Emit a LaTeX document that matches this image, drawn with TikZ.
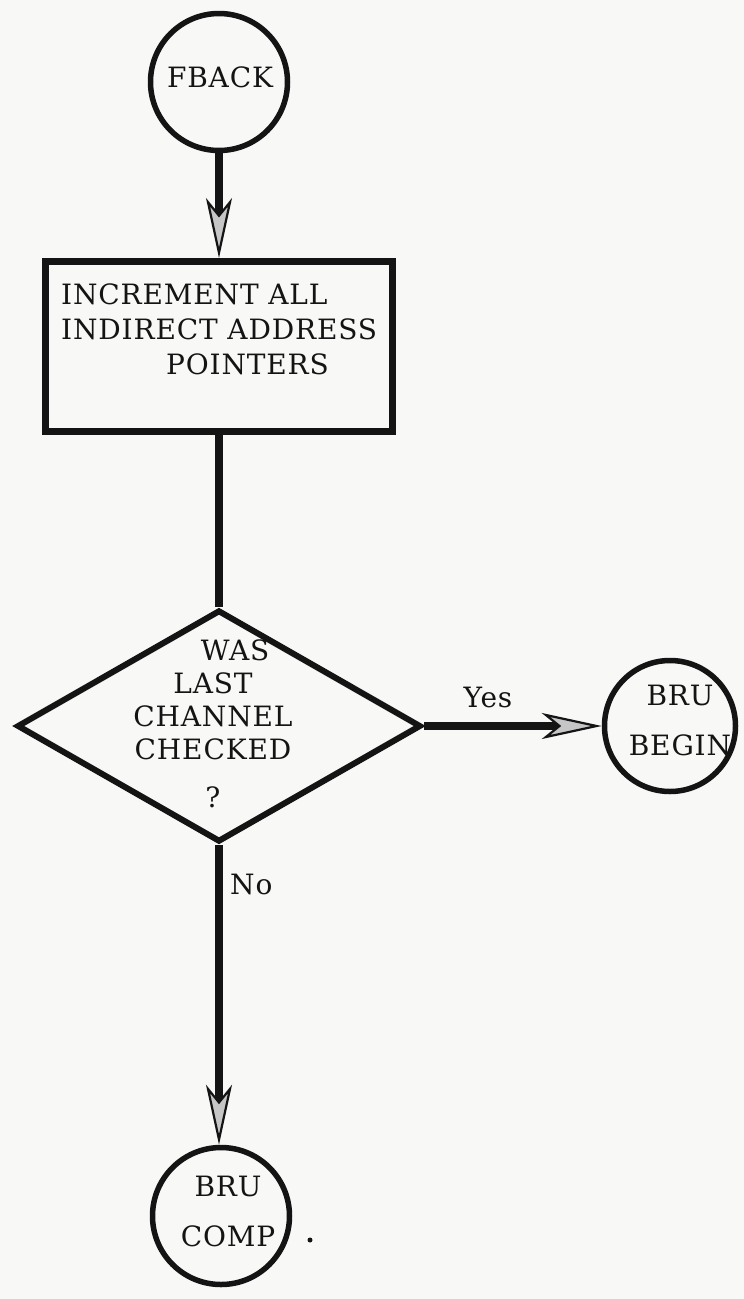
\documentclass[tikz,border=0pt]{standalone}
\usepackage{fontspec}
\setmainfont[LetterSpace=3]{DejaVu Serif}
\usetikzlibrary{arrows.meta,shapes.geometric}
\definecolor{ink}{HTML}{141414}
\definecolor{paper}{HTML}{F8F8F6}
\begin{document}
\begin{tikzpicture}[x=1pt,y=-1pt,
  every node/.style={font=\fontsize{28}{35}\selectfont,text=ink},
  term/.style={circle,draw=ink,line width=5.5pt,minimum size=137pt,inner sep=0pt},
  procbox/.style={rectangle,draw=ink,line width=7pt,minimum width=347pt,minimum height=170pt,inner sep=0pt},
  decide/.style={diamond,draw=ink,line width=6pt,minimum width=404pt,minimum height=232pt,inner sep=0pt},
  flow/.style={draw=ink,line width=8.5pt,-{Stealth[length=60pt,width=26pt,inset=16pt,line width=2.2pt,fill=gray!45]}},
  plain/.style={draw=ink,line width=8.5pt},
  lbl/.style={inner sep=0pt,align=center}]
\useasboundingbox (0,0) rectangle (744,1299);
\fill[paper] (0,0) rectangle (744,1299);

% shapes
\node[term] (fb) at (219,82) {};
\node[procbox] (inc) at (219,346.5) {};
\node[decide] (dec) at (219,726) {};
\node[term,minimum size=131pt] (begin) at (670,726) {};
\node[term] (comp) at (221,1216) {};

% texts
\node[lbl] (fbt) at (220,77) {FBACK};
\node[lbl,anchor=north west,align=left] (inct) at (61,284)
  {INCREMENT ALL\\INDIRECT ADDRESS\\\hspace*{105pt}POINTERS};
\node[lbl,font=\fontsize{28}{33}\selectfont] (dect) at (213,724)
  {\hspace*{44pt}WAS\\LAST\\CHANNEL\\CHECKED\\[15pt]?};
\node[lbl,font=\fontsize{28}{50}\selectfont] (begint) at (680,720) {BRU\\BEGIN};
\node[lbl,font=\fontsize{28}{50}\selectfont] (compt) at (228,1211) {BRU\\COMP};

% connectors
\draw[flow] (fb.south) -- (fb.south |- inc.north);
\draw[plain] (inc.south) -- (dec.north);
\draw[flow] (dec.east) -- (begin.west);
\draw[flow] (dec.south) -- (dec.south |- comp.north);
\node[lbl] (yes) at (488,697) {Yes};
\node[lbl,anchor=west] (no) at (230,884) {No};

% stray period beside BRU COMP
\fill[ink] (310,1240) circle (2.5pt);
\end{tikzpicture}
\end{document}
